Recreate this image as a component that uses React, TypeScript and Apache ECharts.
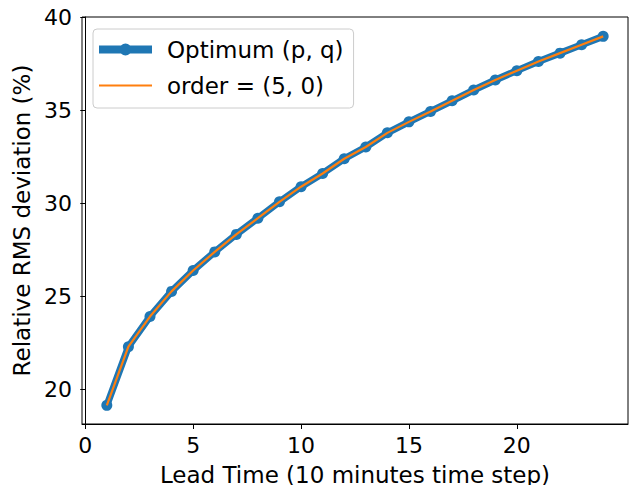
import React, { useEffect, useRef } from "react";
import * as echarts from "echarts";

const leadTimes = [1, 2, 3, 4, 5, 6, 7, 8, 9, 10, 11, 12, 13, 14, 15, 16, 17, 18, 19, 20, 21, 22, 23, 24];
const optimumRms = [19.15, 22.3, 23.92, 25.27, 26.39, 27.39, 28.33, 29.2, 30.08, 30.89, 31.6, 32.39, 33.02, 33.78, 34.37, 34.93, 35.5, 36.08, 36.62, 37.12, 37.61, 38.06, 38.51, 38.96];
const order50Rms = [19.15, 22.3, 23.92, 25.27, 26.39, 27.39, 28.33, 29.2, 30.08, 30.89, 31.6, 32.39, 33.02, 33.78, 34.37, 34.93, 35.5, 36.08, 36.62, 37.12, 37.61, 38.06, 38.51, 38.96];
const xTicks = [0, 5, 10, 15, 20];
const yTicks = [20, 25, 30, 35, 40];
const seriesNames = ["Optimum (p, q)", "order = (5, 0)"];

const FONT = "DejaVu Sans";
const FS = 22;
const FS_NAME = 23;

// legend icons drawn in a 53x20 box (corner dots pin the bounding box)
const PIN = "M0,0 L0.01,0 L0.01,0.01 Z M52.99,20 L53,20 L53,19.99 Z ";
const blueIcon =
  "path://" + PIN + "M0,6 L53,6 L53,14 L0,14 Z M20.5,10 A6,6 0 1,1 32.5,10 A6,6 0 1,1 20.5,10 Z";
const orangeIcon = "path://" + PIN + "M0,9 L53,9 L53,11 L0,11 Z";

export default function App() {
  const ref = useRef<HTMLDivElement>(null);
  useEffect(() => {
    document.body.style.margin = "0";
    const chart = echarts.init(ref.current!, null, { renderer: "svg" });
    const axisCommon = {
      axisLine: { show: true, lineStyle: { color: "#000", width: 1 } },
      splitLine: { show: false },
      nameTextStyle: { color: "#000", fontSize: FS_NAME, fontFamily: FONT },
    };
    const tick = { show: true, length: 5, lineStyle: { color: "#000", width: 1 } };
    chart.setOption({
      animation: false,
      backgroundColor: "#fff",
      grid: {
        left: 82,
        right: 6,
        top: 17,
        bottom: 61,
        show: true,
        borderColor: "#000",
        borderWidth: 1,
        containLabel: false,
        outerBoundsMode: "none",
      },
      legend: {
        orient: "vertical",
        left: 93,
        top: 29,
        padding: [9, 10, 11, 6],
        itemWidth: 53,
        itemHeight: 20,
        itemGap: 13,
        symbolKeepAspect: false,
        backgroundColor: "rgba(255,255,255,0.8)",
        borderColor: "#cccccc",
        borderWidth: 1,
        borderRadius: 4,
        itemStyle: { borderWidth: 0 },
        textStyle: { color: "#000", fontSize: FS_NAME, fontFamily: FONT, padding: [0, 0, 0, 10] },
        data: [
          { name: seriesNames[0], icon: blueIcon, itemStyle: { color: "#1f77b4", borderWidth: 0 } },
          { name: seriesNames[1], icon: orangeIcon, itemStyle: { color: "#ff7f0e", borderWidth: 0 } },
        ],
      },
      xAxis: {
        type: "value",
        min: -0.15,
        max: 25.15,
        name: "Lead Time (10 minutes time step)",
        nameLocation: "middle",
        nameGap: 39,
        ...axisCommon,
        axisTick: { ...tick, customValues: xTicks },
        axisLabel: { color: "#000", fontSize: FS, fontFamily: FONT, margin: 10, customValues: xTicks },
      },
      yAxis: {
        type: "value",
        min: 18.15,
        max: 40,
        name: "Relative RMS deviation (%)",
        nameLocation: "middle",
        nameGap: 47,
        nameRotate: 90,
        ...axisCommon,
        axisTick: { ...tick, customValues: yTicks },
        axisLabel: { color: "#000", fontSize: FS, fontFamily: FONT, margin: 10, customValues: yTicks },
      },
      series: [
        {
          name: seriesNames[0],
          type: "line",
          data: leadTimes.map((x, i) => [x, optimumRms[i]]),
          symbol: "circle",
          symbolSize: 11,
          showSymbol: true,
          itemStyle: { color: "#1f77b4" },
          lineStyle: { color: "#1f77b4", width: 7 },
          z: 2,
        },
        {
          name: seriesNames[1],
          type: "line",
          data: leadTimes.map((x, i) => [x, order50Rms[i]]),
          symbol: "none",
          showSymbol: false,
          itemStyle: { color: "#ff7f0e" },
          lineStyle: { color: "#ff7f0e", width: 2.2 },
          z: 3,
        },
      ],
    });
    return () => chart.dispose();
  }, []);
  return <div ref={ref} style={{ width: 634, height: 485 }} />;
}
